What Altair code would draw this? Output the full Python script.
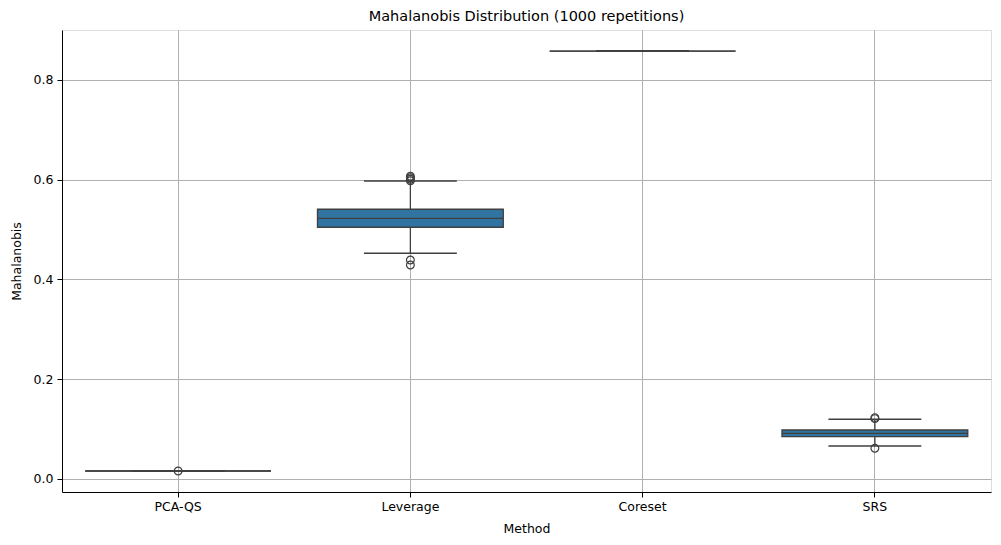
import altair as alt
import pandas as pd

methods = ["PCA-QS", "Leverage", "Coreset", "SRS"]
q1 = [0.016, 0.5047, 0.858, 0.0848]
median = [0.016, 0.5227, 0.858, 0.0916]
q3 = [0.016, 0.5408, 0.858, 0.0982]
whisk_lo = [0.016, 0.4526, 0.858, 0.0662]
whisk_hi = [0.016, 0.5976, 0.858, 0.1200]

out_method = ["PCA-QS", "Leverage", "Leverage", "Leverage", "Leverage", "Leverage", "Leverage",
              "SRS", "SRS", "SRS"]
out_value = [0.016, 0.598, 0.601, 0.604, 0.607, 0.439, 0.429,
             0.121, 0.123, 0.0616]

stats = pd.DataFrame({"Method": methods, "q1": q1, "median": median, "q3": q3,
                      "lo": whisk_lo, "hi": whisk_hi})
outl = pd.DataFrame({"Method": out_method, "value": out_value})

FONT = "DejaVu Sans"
LINE = "#3f3f3f"
FILL = "#3274a1"
BAND = 929 / 4

x = alt.X("Method:N", sort=methods, title="Method",
          scale=alt.Scale(paddingInner=0, paddingOuter=0),
          axis=alt.Axis(labelAngle=0, bandPosition=0.5, grid=True, gridColor="#b0b0b0",
                        gridWidth=1, domainColor="black", tickColor="black", tickSize=5,
                        labelColor="black", labelFontSize=12.5, labelFont=FONT,
                        labelPadding=3, titleFont=FONT, titleFontSize=12.5,
                        titleFontWeight="normal", titleColor="black", titlePadding=10))
yscale = alt.Scale(domain=[-0.0261, 0.9002], nice=False, zero=False)
yaxis = alt.Axis(values=[0.0, 0.2, 0.4, 0.6, 0.8], format=".1f", grid=True,
                 gridColor="#b0b0b0", gridWidth=1, domainColor="black", tickColor="black",
                 tickSize=5, labelColor="black", labelFontSize=12.5, labelFont=FONT,
                 labelPadding=4, titleFont=FONT, titleFontSize=12.5,
                 titleFontWeight="normal", titleColor="black", titlePadding=10)

base = alt.Chart(stats)

whisk_up = base.mark_rule(color=LINE, strokeWidth=1.3).encode(
    x=x, y=alt.Y("q3:Q", scale=yscale, axis=yaxis, title="Mahalanobis"), y2="hi:Q")
whisk_down = base.mark_rule(color=LINE, strokeWidth=1.3).encode(
    x=x, y=alt.Y("lo:Q", scale=yscale), y2="q1:Q")
box = base.mark_bar(fill=FILL, stroke=LINE, strokeWidth=1.3,
                    width=alt.RelativeBandSize(0.8)).encode(
    x=x, y=alt.Y("q1:Q", scale=yscale), y2="q3:Q")
cap_hi = base.mark_tick(color=LINE, thickness=1.5, size=BAND * 0.4, opacity=1).encode(
    x=x, y=alt.Y("hi:Q", scale=yscale))
cap_lo = base.mark_tick(color=LINE, thickness=1.5, size=BAND * 0.4, opacity=1).encode(
    x=x, y=alt.Y("lo:Q", scale=yscale))
med = base.mark_tick(color=LINE, thickness=1.3, size=BAND * 0.8, opacity=1).encode(
    x=x, y=alt.Y("median:Q", scale=yscale))
pts = alt.Chart(outl).mark_point(shape="circle", filled=False, color=LINE, size=60,
                                 strokeWidth=1.2, opacity=1).encode(
    x=x, y=alt.Y("value:Q", scale=yscale))

chart = alt.layer(whisk_up, whisk_down, box, cap_hi, cap_lo, med, pts).properties(
    width=929, height=462,
    title=alt.TitleParams("Mahalanobis Distribution (1000 repetitions)", font=FONT,
                          fontSize=14.5, fontWeight="normal", color="black", offset=6),
    autosize=alt.AutoSizeParams(type="none"),
    padding={"left": 54, "top": 22, "right": 2, "bottom": 45},
).configure_view(stroke="black", strokeWidth=1).configure(background="white")

chart.save("out.html", embed_options={"renderer": "svg", "actions": False})
